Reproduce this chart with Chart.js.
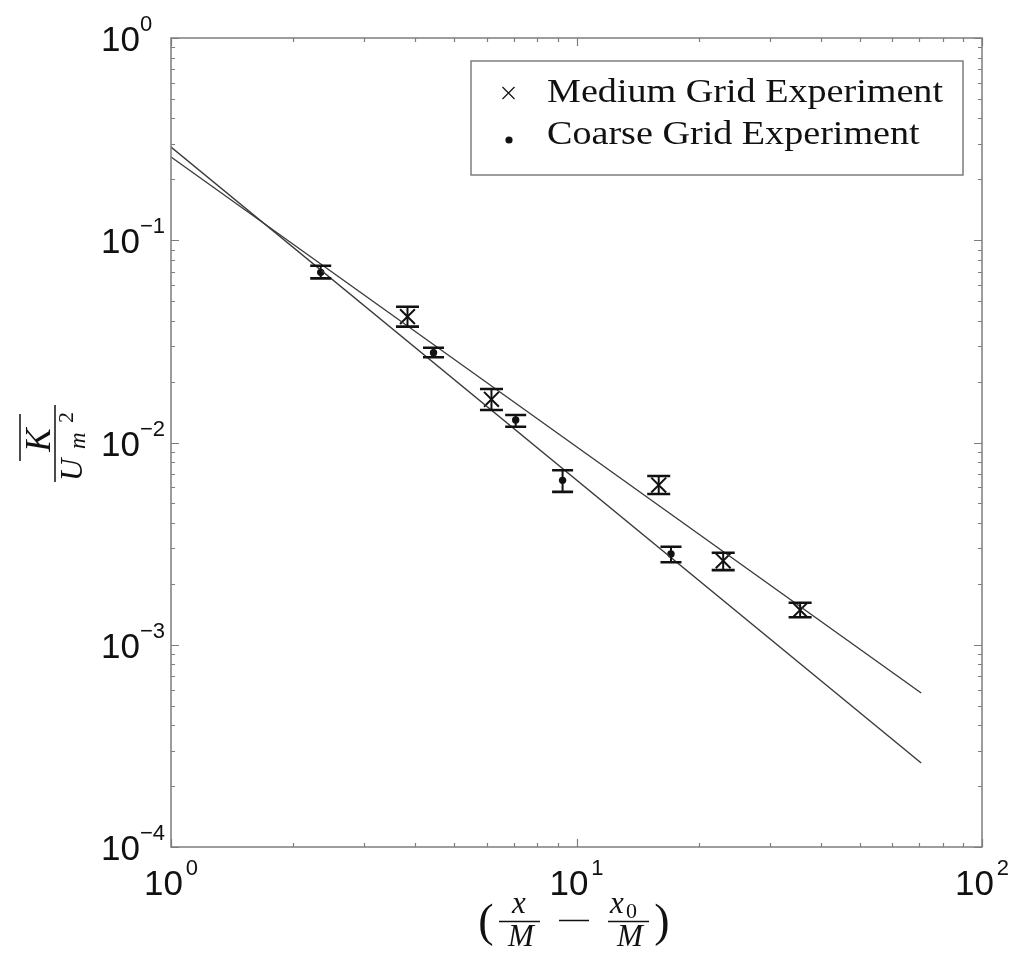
<!DOCTYPE html>
<html>
<head>
<meta charset="utf-8">
<script src="https://cdn.jsdelivr.net/npm/chart.js@4/dist/chart.umd.min.js"></script>
<style>
  html, body { margin: 0; padding: 0; background: #fff; }
  canvas { display: block; }
</style>
</head>
<body>
<canvas id="c" width="1014" height="953"></canvas>
<script>
// Medium grid measurements with error limits
const mediumX    = [3.83, 6.17, 15.95, 23.0, 35.6];
const mediumY    = [0.0419, 0.01635, 0.00616, 0.00260, 0.001485];
const mediumLow  = [0.0374, 0.01447, 0.00556, 0.00234, 0.001367];
const mediumHigh = [0.0469, 0.01839, 0.00683, 0.00285, 0.001614];

// Coarse grid measurements with error limits
const coarseX    = [2.34, 4.44, 7.08, 9.24, 17.1];
const coarseY    = [0.0694, 0.0278, 0.01292, 0.0065, 0.00281];
const coarseLow  = [0.0648, 0.0264, 0.01197, 0.0057, 0.002557];
const coarseHigh = [0.0748, 0.0294, 0.01368, 0.00729, 0.003053];

// Power-law fits (end points)
const fitX       = [1, 70.8];
const mediumFitY = [0.258, 5.77e-4];
const coarseFitY = [0.289, 2.60e-4];

// Axis decades and their exponent labels
const xDecades = [1, 10, 100];
const xTickExp = ['0', '1', '2'];
const yDecades = [1e-4, 1e-3, 1e-2, 1e-1, 1];
const yTickExp = ['\u22124', '\u22123', '\u22122', '\u22121', '0'];

const seriesLabels = ['Medium Grid Experiment', 'Coarse Grid Experiment'];

const pts = (xs, ys) => xs.map((x, i) => ({ x: x, y: ys[i] }));

const AXIS_COLOR = '#7d7d7d';
const INK = '#111';

// minor tick values for a log range
function logTicks(lo, hi) {
  const out = [];
  for (let d = lo; d < hi; d *= 10) {
    for (let m = 1; m < 10; m++) out.push({ v: d * m, major: m === 1 });
  }
  out.push({ v: hi, major: true });
  return out;
}

const errorBars = {
  id: 'errorBars',
  afterDatasetsDraw(chart) {
    const { ctx, scales: { x, y } } = chart;
    const sets = [
      { xs: mediumX, lo: mediumLow, hi: mediumHigh, half: 11.5 },
      { xs: coarseX, lo: coarseLow, hi: coarseHigh, half: 10.5 }
    ];
    ctx.save();
    ctx.strokeStyle = INK;
    ctx.lineCap = 'butt';
    sets.forEach(s => {
      s.xs.forEach((xv, i) => {
        const px = x.getPixelForValue(xv);
        const pLo = y.getPixelForValue(s.lo[i]);
        const pHi = y.getPixelForValue(s.hi[i]);
        ctx.lineWidth = 2;
        ctx.beginPath();
        ctx.moveTo(px, pLo); ctx.lineTo(px, pHi);
        ctx.stroke();
        ctx.lineWidth = 2.6;
        ctx.beginPath();
        ctx.moveTo(px - s.half, pLo); ctx.lineTo(px + s.half, pLo);
        ctx.moveTo(px - s.half, pHi); ctx.lineTo(px + s.half, pHi);
        ctx.stroke();
      });
    });
    ctx.restore();
  }
};

const frame = {
  id: 'frame',
  afterDraw(chart) {
    const { ctx, chartArea: a, scales: { x, y } } = chart;
    ctx.save();
    ctx.strokeStyle = AXIS_COLOR;
    ctx.lineWidth = 1.5;
    ctx.strokeRect(a.left, a.top, a.right - a.left, a.bottom - a.top);
    ctx.lineWidth = 1.2;
    ctx.beginPath();
    logTicks(1e-4, 1).forEach(t => {
      const py = Math.round(y.getPixelForValue(t.v)) + 0.5;
      const len = t.major ? 8 : 4;
      ctx.moveTo(a.left, py); ctx.lineTo(a.left + len, py);
      ctx.moveTo(a.right, py); ctx.lineTo(a.right - len, py);
    });
    logTicks(1, 100).forEach(t => {
      const px = Math.round(x.getPixelForValue(t.v)) + 0.5;
      const len = t.major ? 8 : 4;
      ctx.moveTo(px, a.bottom); ctx.lineTo(px, a.bottom - len);
      ctx.moveTo(px, a.top); ctx.lineTo(px, a.top + len);
    });
    ctx.stroke();

    // tick labels: 10 with superscript exponent
    ctx.fillStyle = INK;
    ctx.textBaseline = 'alphabetic';
    const big = '35px "Liberation Sans", Arial, sans-serif';
    const small = '22px "Liberation Sans", Arial, sans-serif';
    yDecades.forEach((v, i) => {
      const py = y.getPixelForValue(v);
      ctx.font = big; ctx.textAlign = 'right';
      ctx.fillText('10', 140, py + 13);
      ctx.font = small; ctx.textAlign = 'left';
      ctx.fillText(yTickExp[i], 140, py - 7);
    });
    xDecades.forEach((v, i) => {
      const px = x.getPixelForValue(v);
      ctx.font = big;
      const w1 = ctx.measureText('10').width;
      ctx.font = small;
      const w2 = ctx.measureText(xTickExp[i]).width;
      const start = px - (w1 + 3 + w2) / 2;
      ctx.textAlign = 'left';
      ctx.font = big;
      ctx.fillText('10', start, 895);
      ctx.font = small;
      ctx.fillText(xTickExp[i], start + w1 + 3, 875);
    });

    // x-axis title: ( x/M - x0/M )
    const it = 'italic 31px "Liberation Serif", "Times New Roman", serif';
    ctx.textAlign = 'center';
    ctx.font = '46px "Liberation Serif", serif';
    ctx.fillText('(', 486, 936);
    ctx.fillText(')', 662, 936);
    ctx.font = it;
    ctx.fillText('x', 519, 913);
    ctx.fillText('M', 521, 946);
    ctx.fillText('M', 630, 946);
    ctx.textAlign = 'left';
    ctx.fillText('x', 610, 913);
    ctx.font = '22px "Liberation Serif", serif';
    ctx.fillText('0', 626, 918);
    ctx.strokeStyle = INK;
    ctx.lineWidth = 1.5;
    ctx.beginPath();
    ctx.moveTo(499, 921.5); ctx.lineTo(540, 921.5);
    ctx.moveTo(608, 921.5); ctx.lineTo(649, 921.5);
    ctx.moveTo(559, 920.5); ctx.lineTo(589, 920.5);
    ctx.stroke();

    // y-axis title: overline K / U_m^2, rotated
    ctx.save();
    ctx.translate(55, 443);
    ctx.rotate(-Math.PI / 2);
    ctx.beginPath();
    ctx.moveTo(-39, 0); ctx.lineTo(38, 0);
    ctx.moveTo(-18, -35); ctx.lineTo(29, -35);
    ctx.stroke();
    ctx.font = 'italic 35px "Liberation Serif", serif';
    ctx.textAlign = 'center';
    ctx.fillText('K', 3, -5);
    ctx.textAlign = 'left';
    ctx.font = it;
    ctx.fillText('U', -38, 27);
    ctx.font = 'italic 23px "Liberation Serif", serif';
    ctx.fillText('m', -6, 30);
    ctx.font = '22px "Liberation Serif", serif';
    ctx.fillText('2', 20, 18);
    ctx.restore();

    // legend
    ctx.fillStyle = '#fff';
    ctx.fillRect(471, 61, 492, 114);
    ctx.strokeStyle = AXIS_COLOR;
    ctx.lineWidth = 1.5;
    ctx.strokeRect(471, 61, 492, 114);
    ctx.fillStyle = INK;
    ctx.font = '34px "Liberation Serif", "Times New Roman", serif';
    ctx.textAlign = 'left';
    const sx = 396 / ctx.measureText(seriesLabels[0]).width;
    [102, 144].forEach((base, i) => {
      ctx.save();
      ctx.translate(547, base);
      ctx.scale(sx, 1);
      ctx.fillText(seriesLabels[i], 0, 0);
      ctx.restore();
    });
    ctx.strokeStyle = INK;
    ctx.lineWidth = 1.2;
    ctx.beginPath();
    ctx.moveTo(502.5, 87); ctx.lineTo(514.5, 99);
    ctx.moveTo(514.5, 87); ctx.lineTo(502.5, 99);
    ctx.stroke();
    ctx.beginPath();
    ctx.arc(509, 140, 3.6, 0, Math.PI * 2);
    ctx.fill();

    ctx.restore();
  }
};

new Chart(document.getElementById('c'), {
  type: 'scatter',
  data: {
    datasets: [
      {
        label: 'Medium fit',
        data: pts(fitX, mediumFitY),
        showLine: true,
        borderColor: '#3a3a3a',
        borderWidth: 1.4,
        pointRadius: 0
      },
      {
        label: 'Coarse fit',
        data: pts(fitX, coarseFitY),
        showLine: true,
        borderColor: '#3a3a3a',
        borderWidth: 1.4,
        pointRadius: 0
      },
      {
        label: seriesLabels[0],
        data: pts(mediumX, mediumY),
        pointStyle: 'crossRot',
        pointRadius: 10.5,
        borderColor: INK,
        borderWidth: 2,
        backgroundColor: INK
      },
      {
        label: seriesLabels[1],
        data: pts(coarseX, coarseY),
        pointStyle: 'circle',
        pointRadius: 3.7,
        borderWidth: 0,
        backgroundColor: INK
      }
    ]
  },
  options: {
    responsive: false,
    animation: false,
    devicePixelRatio: 1,
    layout: { padding: { left: 171, top: 38, right: 32, bottom: 106 } },
    plugins: { legend: { display: false }, tooltip: { enabled: false } },
    scales: {
      x: { type: 'logarithmic', min: 1, max: 100, display: false },
      y: { type: 'logarithmic', min: 1e-4, max: 1, display: false }
    }
  },
  plugins: [errorBars, frame]
});
</script>
</body>
</html>
